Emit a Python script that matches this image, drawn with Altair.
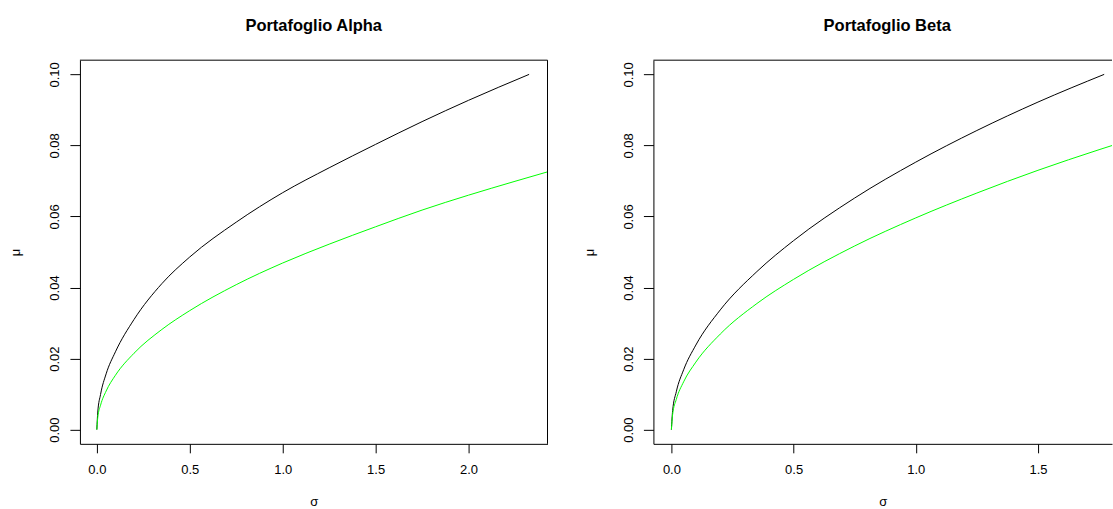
import altair as alt
import pandas as pd

# ---- data ----
alpha_black_sigma = [0.0, 0.005, 0.02, 0.05, 0.1, 0.2, 0.35, 0.5, 0.75, 1.0, 1.25, 1.5, 1.75, 2.0, 2.326]
alpha_black_mu    = [0.0, 0.00495, 0.0099, 0.0157, 0.0219, 0.0310, 0.0411, 0.0486, 0.0584, 0.0667, 0.0737, 0.0803, 0.0867, 0.0927, 0.1000]
alpha_green_sigma = [0.0, 0.005, 0.02, 0.05, 0.1, 0.2, 0.35, 0.5, 0.75, 1.0, 1.25, 1.5, 1.75, 2.0, 2.25, 2.5]
alpha_green_mu    = [0.0, 0.00344, 0.00687, 0.01086, 0.0153, 0.0215, 0.0282, 0.0335, 0.0408, 0.0469, 0.0522, 0.0571, 0.0618, 0.0660, 0.0699, 0.0737]

beta_black_sigma = [0.0, 0.005, 0.02, 0.05, 0.1, 0.2, 0.35, 0.5, 0.75, 1.0, 1.25, 1.5, 1.771]
beta_black_mu    = [0.0, 0.00532, 0.01065, 0.01684, 0.0238, 0.0337, 0.0445, 0.0532, 0.0652, 0.0753, 0.0842, 0.0922, 0.1000]
beta_green_sigma = [0.0, 0.005, 0.02, 0.05, 0.1, 0.2, 0.35, 0.5, 0.75, 1.0, 1.25, 1.5, 1.75, 1.85]
beta_green_mu    = [0.0, 0.00425, 0.0085, 0.01345, 0.0190, 0.0269, 0.0355, 0.0423, 0.0517, 0.0596, 0.0666, 0.0730, 0.0788, 0.0810]

titles = ["Portafoglio Alpha", "Portafoglio Beta"]
y_ticks = [0.0, 0.02, 0.04, 0.06, 0.08, 0.10]
alpha_x_ticks = [0.0, 0.5, 1.0, 1.5, 2.0]
beta_x_ticks = [0.0, 0.5, 1.0, 1.5]

FONT = "Liberation Sans"
H = 384


def panel(title, bs, bm, gs, gm, xdom, xticks, width, right_border, title_dx):
    df_b = pd.DataFrame({"sigma": bs, "mu": bm})
    df_g = pd.DataFrame({"sigma": gs, "mu": gm})
    xenc = alt.X(
        "sigma:Q",
        scale=alt.Scale(domain=xdom, nice=False, zero=False),
        axis=alt.Axis(
            values=xticks, format=".1f", title="σ", grid=False,
            tickSize=9, tickColor="black", domainColor="black",
            labelFont=FONT, labelFontSize=13, labelColor="black",
            labelPadding=11, labelFlush=False,
            titleFont=FONT, titleFontSize=13, titleFontWeight="normal",
            titleColor="black", titlePadding=19,
        ),
    )
    yenc = alt.Y(
        "mu:Q",
        scale=alt.Scale(domain=[-0.004, 0.104], nice=False, zero=False),
        axis=alt.Axis(
            values=y_ticks, format=".2f", title="μ", grid=False,
            tickSize=10, tickColor="black", domainColor="black",
            labelFont=FONT, labelFontSize=13, labelColor="black",
            labelAngle=270, labelAlign="center", labelBaseline="bottom",
            labelPadding=8, labelOverlap=False, labelFlush=False,
            titleFont=FONT, titleFontSize=13, titleFontWeight="normal",
            titleColor="black", titlePadding=26,
        ),
    )
    black = alt.Chart(df_b).mark_line(color="black", strokeWidth=1, clip=True,
                                      interpolate="monotone").encode(x=xenc, y=yenc)
    green = alt.Chart(df_g).mark_line(color="#00ff00", strokeWidth=1, clip=True,
                                      interpolate="monotone").encode(x="sigma:Q", y="mu:Q")
    one = pd.DataFrame({"k": [0]})
    top = alt.Chart(one).mark_rule(color="black", strokeWidth=1).encode(
        x=alt.value(0), x2=alt.value(width), y=alt.value(0))
    layers = [black, green, top]
    if right_border:
        right = alt.Chart(one).mark_rule(color="black", strokeWidth=1).encode(
            x=alt.value(width), y=alt.value(0), y2=alt.value(H))
        layers.append(right)
    return alt.layer(*layers).properties(
        width=width, height=H,
        title=alt.TitleParams(title, font=FONT, fontSize=16.5, fontWeight="bold",
                              color="black", anchor="middle", offset=25, dx=title_dx),
    )


left = panel(titles[0], alpha_black_sigma, alpha_black_mu, alpha_green_sigma, alpha_green_mu,
             [-0.091, 2.425], alpha_x_ticks, 468, True, 0)
right = panel(titles[1], beta_black_sigma, beta_black_mu, beta_green_sigma, beta_green_mu,
              [-0.0736, 1.803], beta_x_ticks, 459, False, 4.5)

chart = alt.hconcat(left, right, spacing=35).properties(
    padding={"left": 10, "top": 18, "right": 0, "bottom": 0},
    background="white",
).configure_view(stroke=None)

chart.save("out.html", embed_options={"renderer": "svg", "actions": False})
